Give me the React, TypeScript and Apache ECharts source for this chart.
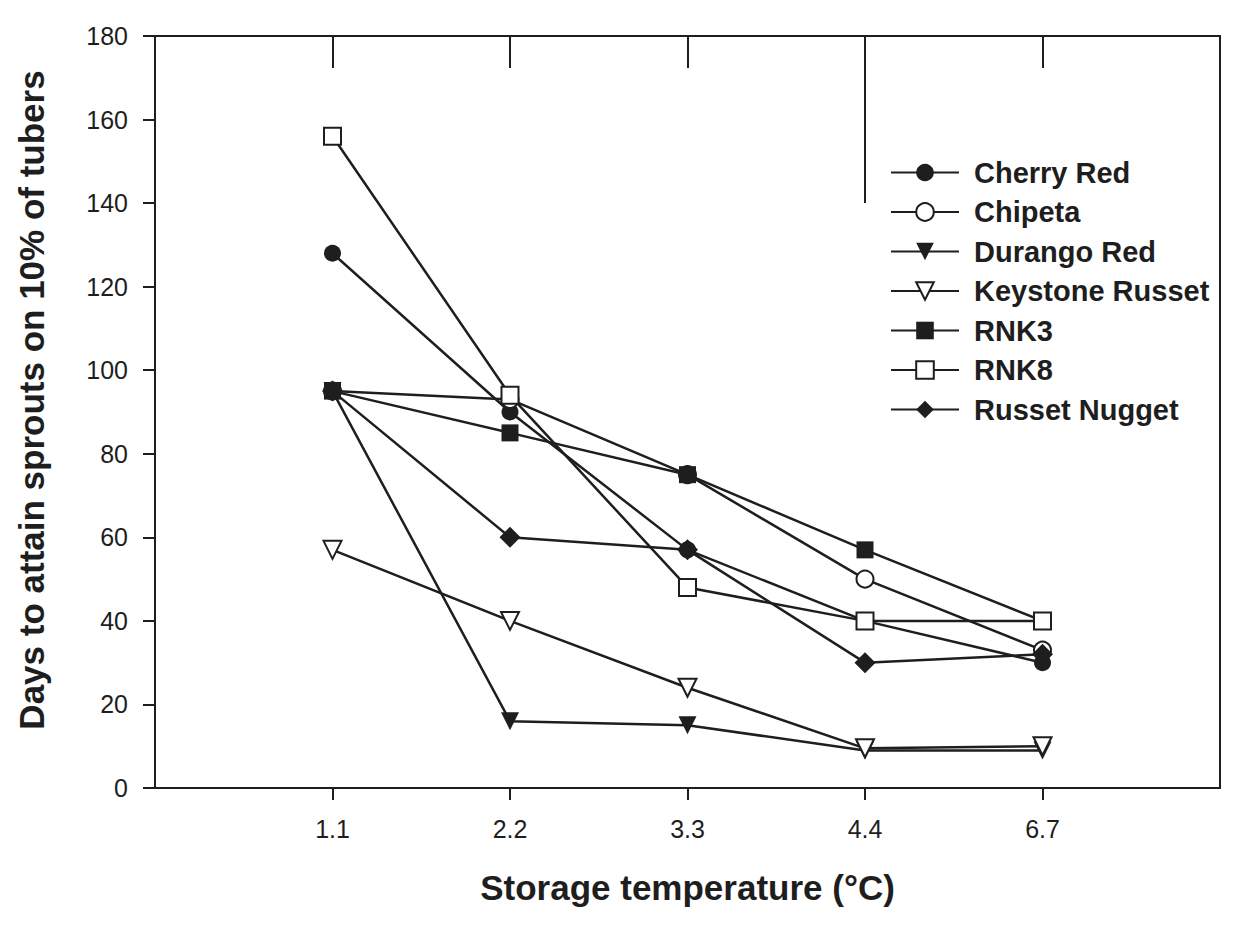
import React, { useEffect, useRef } from "react";
import * as echarts from "echarts";

// Storage temperatures (°C) shown on the x axis
const TEMPS = ["1.1", "2.2", "3.3", "4.4", "6.7"];

// Days to attain sprouts on 10% of tubers
const cherryRed = [128, 90, 57, 40, 30];
const chipeta = [95, 93, 75, 50, 33];
const durangoRed = [95, 16, 15, 9, 9];
const keystoneRusset = [57, 40, 24, 9.5, 10];
const rnk3 = [95, 85, 75, 57, 40];
const rnk8 = [156, 94, 48, 40, 40];
const russetNugget = [95, 60, 57, 30, 32];

const SERIES_NAMES = [
  "Cherry Red",
  "Chipeta",
  "Durango Red",
  "Keystone Russet",
  "RNK3",
  "RNK8",
  "Russet Nugget",
];

const INK = "#1e1e1e";
const FONT = "'Liberation Sans', Arial, Helvetica, sans-serif";

export default function App() {
  const ref = useRef<HTMLDivElement>(null);

  useEffect(() => {
    if (!ref.current) return;
    const chart = echarts.init(ref.current, undefined, { renderer: "svg" });

    const categories = ["", ...TEMPS, ""];

    const defs = [
      { name: SERIES_NAMES[0], data: cherryRed, symbol: "circle", filled: true, size: 17, rotate: 0 },
      { name: SERIES_NAMES[1], data: chipeta, symbol: "circle", filled: false, size: 17, rotate: 0 },
      { name: SERIES_NAMES[2], data: durangoRed, symbol: "triangle", filled: true, size: 18, rotate: 180 },
      { name: SERIES_NAMES[3], data: keystoneRusset, symbol: "triangle", filled: false, size: 18, rotate: 180 },
      { name: SERIES_NAMES[4], data: rnk3, symbol: "rect", filled: true, size: 17, rotate: 0 },
      { name: SERIES_NAMES[5], data: rnk8, symbol: "rect", filled: false, size: 17, rotate: 0 },
      { name: SERIES_NAMES[6], data: russetNugget, symbol: "diamond", filled: true, size: 21, rotate: 0 },
    ];

    const series: any[] = defs.map((d) => ({
      type: "line",
      name: d.name,
      data: d.data.map((v, i) => [TEMPS[i], v]),
      symbol: d.symbol,
      symbolSize: d.size,
      symbolRotate: d.rotate,
      showAllSymbol: true,
      lineStyle: { color: INK, width: 2.5 },
      itemStyle: {
        color: d.filled ? INK : "#ffffff",
        borderColor: INK,
        borderWidth: d.filled ? 0 : 2,
        opacity: 1,
      },
      emphasis: { disabled: true },
      z: 3,
    }));

    // long tick at 4.4 on the top border
    series.push({
      type: "line",
      name: "__tick",
      data: [],
      silent: true,
      markLine: {
        silent: true,
        symbol: "none",
        label: { show: false },
        lineStyle: { color: INK, width: 2, type: "solid" },
        data: [
          [
            { coord: [TEMPS[3], 180] },
            { coord: [TEMPS[3], 140] },
          ],
        ],
      },
    });

    chart.setOption({
      animation: false,
      backgroundColor: "#ffffff",
      textStyle: { fontFamily: FONT, color: INK },
      grid: { left: 155, right: 15, top: 36, bottom: 140, containLabel: false },
      legend: {
        data: SERIES_NAMES,
        orient: "vertical",
        left: 890,
        top: 158,
        itemWidth: 68,
        itemHeight: 22,
        itemGap: 10.5,
        padding: 0,
        selectedMode: false,
        textStyle: {
          fontFamily: FONT,
          fontSize: 29,
          fontWeight: "bold",
          color: INK,
          padding: [0, 0, 0, 10],
        },
      },
      xAxis: [
        {
          type: "category",
          data: categories,
          boundaryGap: false,
          position: "bottom",
          name: "Storage temperature (°C)",
          nameLocation: "middle",
          nameGap: 82,
          nameTextStyle: { fontFamily: FONT, fontSize: 35, fontWeight: "bold", color: INK },
          axisLine: { show: true, onZero: false, lineStyle: { color: INK, width: 2 } },
          axisTick: {
            show: true,
            inside: false,
            length: 12,
            interval: (idx: number) => idx > 0 && idx < categories.length - 1,
            lineStyle: { color: INK, width: 2 },
          },
          axisLabel: {
            interval: 0,
            fontFamily: FONT,
            fontSize: 25,
            color: INK,
            margin: 28,
          },
          splitLine: { show: false },
        },
        {
          type: "category",
          data: categories,
          boundaryGap: false,
          position: "top",
          axisLine: { show: true, onZero: false, lineStyle: { color: INK, width: 2 } },
          axisTick: {
            show: true,
            inside: true,
            length: 32,
            interval: (idx: number) => idx > 0 && idx < categories.length - 1,
            lineStyle: { color: INK, width: 2 },
          },
          axisLabel: { show: false },
          splitLine: { show: false },
        },
      ],
      yAxis: [
        {
          type: "value",
          min: 0,
          max: 180,
          interval: 20,
          position: "left",
          name: "Days to attain sprouts on 10% of tubers",
          nameLocation: "middle",
          nameGap: 106,
          nameTextStyle: {
            fontFamily: FONT,
            fontSize: 35,
            fontWeight: "bold",
            color: INK,
            padding: [0, 0, 0, 24],
          },
          axisLine: { show: true, onZero: false, lineStyle: { color: INK, width: 2 } },
          axisTick: { show: true, inside: false, length: 12, lineStyle: { color: INK, width: 2 } },
          axisLabel: { fontFamily: FONT, fontSize: 25, color: INK, margin: 27 },
          splitLine: { show: false },
        },
        {
          type: "value",
          min: 0,
          max: 180,
          interval: 20,
          position: "right",
          axisLine: { show: true, onZero: false, lineStyle: { color: INK, width: 2 } },
          axisTick: { show: false },
          axisLabel: { show: false },
          splitLine: { show: false },
        },
      ],
      series,
    });

    return () => {
      chart.dispose();
    };
  }, []);

  return (
    <div
      ref={ref}
      style={{ position: "absolute", left: 0, top: 0, width: 1235, height: 928 }}
    />
  );
}
